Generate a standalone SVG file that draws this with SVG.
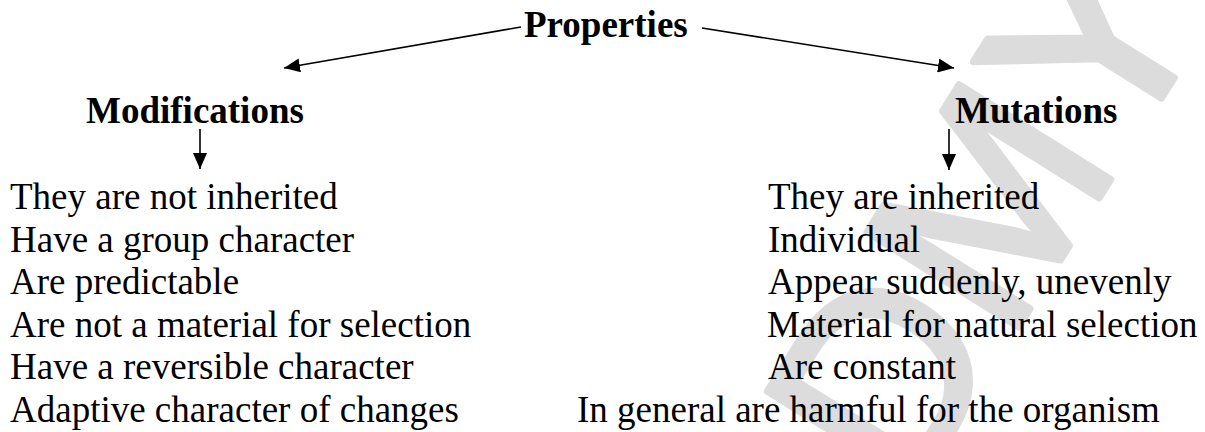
<svg xmlns="http://www.w3.org/2000/svg" width="1205" height="432" viewBox="0 0 1205 432">
<defs>
<style>
.h{font-family:"Liberation Serif","Times New Roman",serif;font-weight:bold;font-size:37px;fill:#000}
.t{font-family:"Liberation Serif","Times New Roman",serif;font-size:37px;fill:#000}
.wm{font-family:"Liberation Sans",Arial,sans-serif;font-size:260px;fill:#dcdcdc;stroke:#dcdcdc;stroke-width:7;stroke-linejoin:round}
.c{stroke:#000;stroke-width:1.6;fill:none}
</style>
<marker id="ah" markerWidth="16" markerHeight="14" refX="16" refY="7" orient="auto" markerUnits="userSpaceOnUse">
<path d="M0,0 L16,7 L0,14 Z" fill="#000"/>
</marker>
</defs>
<rect width="1205" height="432" fill="#fff"/>
<g id="watermark" transform="translate(982,210) rotate(-58)">
<text class="wm" x="0" y="93" text-anchor="middle">DMY</text>
</g>
<g id="connectors">
<line class="c" x1="521" y1="27" x2="284" y2="68" marker-end="url(#ah)"/>
<line class="c" x1="702" y1="28" x2="954" y2="68" marker-end="url(#ah)"/>
<line class="c" x1="200" y1="129" x2="200" y2="169" marker-end="url(#ah)"/>
<line class="c" x1="949" y1="129" x2="949" y2="170" marker-end="url(#ah)"/>
</g>
<g id="properties"><text class="h" x="524" y="37">Properties</text></g>
<g id="modifications"><text class="h" x="86" y="123">Modifications</text></g>
<g id="mutations"><text class="h" x="955" y="123">Mutations</text></g>
<g id="modifications-list">
<text class="t" x="10" y="209">They are not inherited</text>
<text class="t" x="10" y="251.5">Have a group character</text>
<text class="t" x="10" y="294">Are predictable</text>
<text class="t" x="10" y="336.5">Are not a material for selection</text>
<text class="t" x="10" y="379">Have a reversible character</text>
<text class="t" x="10" y="421.5">Adaptive character of changes</text>
</g>
<g id="mutations-list">
<text class="t" x="768" y="209">They are inherited</text>
<text class="t" x="768" y="251.5">Individual</text>
<text class="t" x="768" y="294">Appear suddenly, unevenly</text>
<text class="t" x="767" y="336.5">Material for natural selection</text>
<text class="t" x="768" y="379">Are constant</text>
<text class="t" x="577" y="421.5">In general are harmful for the organism</text>
</g>
</svg>
